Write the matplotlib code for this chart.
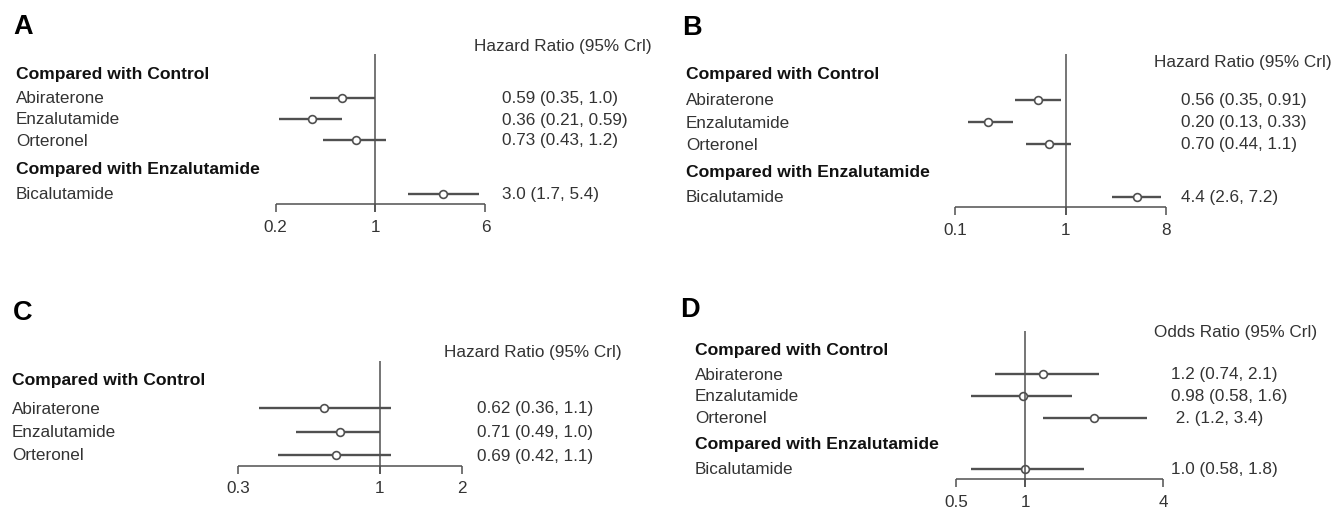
import numpy as np
import matplotlib
matplotlib.use("Agg")
import matplotlib.pyplot as plt

plt.rcParams['font.family'] = ['Liberation Sans', 'DejaVu Sans']

W, H = 1334, 510

# ---- data -------------------------------------------------------------
drugs_ctrl = ['Abiraterone', 'Enzalutamide', 'Orteronel']
drugs_enz = ['Bicalutamide']

a_est = [0.59, 0.36, 0.73, 3.0]
a_lo = [0.35, 0.21, 0.43, 1.7]
a_hi = [1.0, 0.59, 1.2, 5.4]
a_txt = ['0.59 (0.35, 1.0)', '0.36 (0.21, 0.59)', '0.73 (0.43, 1.2)', '3.0 (1.7, 5.4)']
a_ticks = [0.2, 1, 6]

b_est = [0.56, 0.20, 0.70, 4.4]
b_lo = [0.35, 0.13, 0.44, 2.6]
b_hi = [0.91, 0.33, 1.1, 7.2]
b_txt = ['0.56 (0.35, 0.91)', '0.20 (0.13, 0.33)', '0.70 (0.44, 1.1)', '4.4 (2.6, 7.2)']
b_ticks = [0.1, 1, 8]

c_est = [0.62, 0.71, 0.69]
c_lo = [0.36, 0.49, 0.42]
c_hi = [1.1, 1.0, 1.1]
c_txt = ['0.62 (0.36, 1.1)', '0.71 (0.49, 1.0)', '0.69 (0.42, 1.1)']
c_ticks = [0.3, 1, 2]

d_est = [1.2, 0.98, 2.0, 1.0]
d_lo = [0.74, 0.58, 1.2, 0.58]
d_hi = [2.1, 1.6, 3.4, 1.8]
d_txt = ['1.2 (0.74, 2.1)', '0.98 (0.58, 1.6)', ' 2. (1.2, 3.4)', '1.0 (0.58, 1.8)']
d_ticks = [0.5, 1, 4]

HR = 'Hazard Ratio (95% Crl)'
OR = 'Odds Ratio (95% Crl)'

LINE = '#505050'
TXT = '#333333'
FS = 12.3

fig = plt.figure(figsize=(W / 100, H / 100), dpi=100)


def ftext(x, y, s, **kw):
    kw.setdefault('fontsize', FS)
    kw.setdefault('color', TXT)
    kw.setdefault('va', 'center')
    fig.text(x / W, 1 - y / H, s, **kw)


def panel(box, letter, letter_xy, head, head_xy, x1, ppd, top, axis_y, lab_y,
          lab_x, val_x, rows, est, lo, hi, txt, ticks, with_enz=True):
    L, T, R, B = box
    ax = fig.add_axes([L / W, 1 - B / H, (R - L) / W, (B - T) / H])
    ax.set_xscale('log')
    ax.set_xlim(10 ** ((L - x1) / ppd), 10 ** ((R - x1) / ppd))
    ax.set_ylim(B, T)
    ax.axis('off')

    ftext(letter_xy[0], letter_xy[1], letter, fontsize=19.5, weight='bold', color='black')
    ftext(head_xy[0], head_xy[1], head)

    ftext(lab_x, rows[0], 'Compared with Control', weight='bold', color='#111111',
          fontsize=12.6)
    names = list(drugs_ctrl)
    ys = list(rows[1:4])
    if with_enz:
        ftext(lab_x, rows[4], 'Compared with Enzalutamide', weight='bold',
              color='#111111', fontsize=12.6)
        names += drugs_enz
        ys.append(rows[5])
    for n, y, t in zip(names, ys, txt):
        ftext(lab_x, y, n)
        ftext(val_x, y, t)

    ax.hlines(ys, lo, hi, color=LINE, lw=1.7, clip_on=False)
    ax.plot(est, ys, 'o', ms=5.6, mfc='white', mec=LINE, mew=1.2, clip_on=False)

    # reference line and bottom axis
    ax.vlines(1, top, axis_y + 8, color=LINE, lw=1.1, clip_on=False)
    ax.hlines(axis_y, ticks[0], ticks[-1], color=LINE, lw=1.1, clip_on=False)
    ax.vlines(ticks, axis_y, axis_y + 8, color=LINE, lw=1.1, clip_on=False)
    for tk in ticks:
        ax.text(tk, lab_y, f'{tk:g}', ha='center', va='center', fontsize=FS,
                color=TXT, clip_on=False)


panel((0, 0, 667, 255), 'A', (13, 27), HR, (474, 47), 375, 142, 55, 205, 228,
      16, 502, [74, 98.5, 120, 141, 170, 195], a_est, a_lo, a_hi, a_txt, a_ticks)
panel((667, 0, 1334, 255), 'B', (682, 28), HR, (1154, 62), 1066, 111, 55, 208, 231,
      686, 1181, [75, 101, 123, 145, 172, 198], b_est, b_lo, b_hi, b_txt, b_ticks)
panel((0, 255, 667, 510), 'C', (13, 313), HR, (444, 353), 380, 272, 362, 467, 489,
      12, 477, [381, 409, 433, 456], c_est, c_lo, c_hi, c_txt, c_ticks, with_enz=False)
panel((667, 255, 1334, 510), 'D', (680, 310), OR, (1154, 333), 1025, 230, 332, 480, 503,
      695, 1171, [350, 375, 397, 419, 445, 470], d_est, d_lo, d_hi, d_txt, d_ticks)

fig.savefig('out.png', dpi=100)
